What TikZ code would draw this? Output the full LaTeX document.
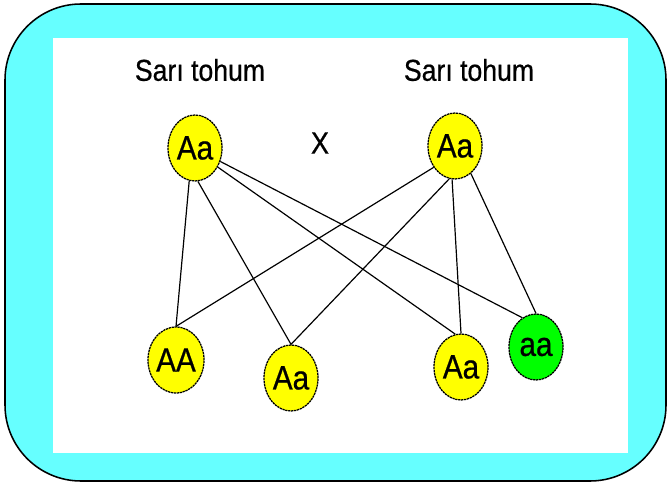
\documentclass[tikz,border=0pt]{standalone}
\usepackage{fontspec}
\setmainfont{Liberation Sans}[FakeStretch=0.88,FakeBold=0.6]
\usetikzlibrary{shapes.geometric}
\definecolor{framecyan}{RGB}{102,255,255}
\definecolor{seedyellow}{RGB}{255,255,0}
\definecolor{seedgreen}{RGB}{0,255,0}

\begin{document}
\begin{tikzpicture}[
  x=0.025cm, y=-0.025cm,
  allele/.style={ellipse,draw=black,line width=0.9pt,dash pattern=on 1.6pt off 0.5pt,
    minimum width=54*0.025cm,minimum height=66*0.025cm,inner sep=0pt,
    font=\fontsize{24}{24}\selectfont},
  yellowseed/.style={allele,fill=seedyellow},
  greenseed/.style={allele,fill=seedgreen},
  title/.style={font=\fontsize{21.5}{22}\selectfont},
  link/.style={draw=black,line width=0.85pt},
]
\useasboundingbox (0,0) rectangle (668,484);

%% Frame
\draw[fill=framecyan,line width=1.1pt,rounded corners=1.9cm] (5,4) rectangle (666,481);
\fill[white] (53,38) rectangle (628,453);

%% ── Parents ─────────────────────────────────────────────
\node[title] (lblL) at (200,70) {Sarı tohum};
\node[title] (lblR) at (469,70) {Sarı tohum};
\node[font=\fontsize{22}{22}\selectfont] (cross) at (320,143) {X};

\node[yellowseed] (pL) at (195,148) {Aa};
\node[yellowseed] (pR) at (455,146) {Aa};

%% ── Offspring ───────────────────────────────────────────
\node[yellowseed] (oAA)  at (176,360) {AA};
\node[yellowseed] (oAa1) at (291,378) {Aa};
\node[yellowseed] (oAa2) at (461,367) {Aa};
\node[greenseed]  (oaa)  at (536,347) {aa};

%% Crosses
\draw[link] (pL.-100) -- (oAA.north);
\draw[link] (pL.-85)  -- (oAa1.north);
\draw[link] (pL.-40)  -- (oAa2.100);
\draw[link] (pL.-28)  -- (oaa.115);
\draw[link] (pR.-135) -- (oAA.north);
\draw[link] (pR.-100) -- (oAa1.north);
\draw[link] (pR.-95)  -- (oAa2.north);
\draw[link] (pR.-60)  -- (oaa.north);

\end{tikzpicture}
\end{document}
